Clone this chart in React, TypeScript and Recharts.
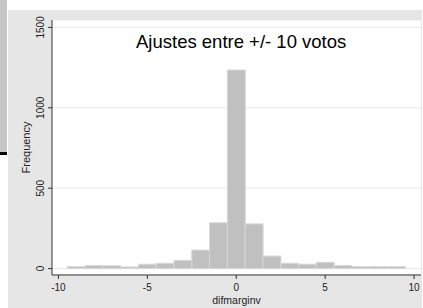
import React from "react";
import {
  BarChart,
  Bar,
  XAxis,
  YAxis,
  CartesianGrid,
  Label,
} from "recharts";

// histogram of difmarginv, one bin per integer from -9 to 9
const binCenters = [-9, -8, -7, -6, -5, -4, -3, -2, -1, 0, 1, 2, 3, 4, 5, 6, 7, 8, 9];
const frequencies = [12, 19, 18, 10, 27, 33, 51, 115, 285, 1235, 278, 78, 33, 27, 39, 19, 12, 12, 12];
const xTicks = [-10, -5, 0, 5, 10];
const yTicks = [0, 500, 1000, 1500];

const data = binCenters.map((x, i) => ({ x, freq: frequencies[i] }));

const FONT = '"Liberation Sans", Arial, Helvetica, sans-serif';

const YTick = (props: any) => {
  const { x, y, payload } = props;
  const bx = x - 2;
  return (
    <text
      x={bx}
      y={y}
      transform={`rotate(-90 ${bx} ${y})`}
      textAnchor="middle"
      fontSize={10}
      fontFamily={FONT}
      fill="#222"
    >
      {payload.value}
    </text>
  );
};

const FreqLabel = (props: any) => {
  const vb = props.viewBox || {};
  const cx = 22;
  const cy = (vb.y ?? 10) + (vb.height ?? 255) / 2;
  return (
    <text
      x={cx}
      y={cy}
      transform={`rotate(-90 ${cx} ${cy})`}
      textAnchor="middle"
      fontSize={11}
      fontFamily={FONT}
      fill="#222"
    >
      Frequency
    </text>
  );
};

export default function App() {
  return (
    <div
      style={{
        position: "relative",
        width: 423,
        height: 308,
        background: "#fff",
        overflow: "hidden",
        fontFamily: FONT,
      }}
    >
      <style>{`body{margin:0}`}</style>
      <div style={{ position: "absolute", left: 0, top: 0, width: 7, height: 152, background: "#c6c6c6" }} />
      <div style={{ position: "absolute", left: 0, top: 152, width: 7, height: 3, background: "#000" }} />
      <div
        style={{
          position: "absolute",
          left: 8,
          top: 10,
          width: 414,
          height: 298,
          background: "#e6e6e6",
        }}
      >
        <BarChart
          width={414}
          height={298}
          data={data}
          margin={{ top: 10, right: 1, left: 0, bottom: 0 }}
          barCategoryGap={0}
          barGap={0}
        >
          <CartesianGrid vertical={false} stroke="#e9e9e9" fill="#fff" />
          <XAxis
            dataKey="x"
            type="number"
            domain={[-10.36, 10.39]}
            ticks={xTicks}
            allowDataOverflow
            height={33}
            tickSize={4}
            tickMargin={5}
            stroke="#333"
            tick={{ fontSize: 10, fontFamily: FONT, fill: "#222" }}
          >
            <Label
              value="difmarginv"
              position="insideBottom"
              offset={4}
              style={{ fontSize: 10.5, fontFamily: FONT, fill: "#222" }}
            />
          </XAxis>
          <YAxis
            type="number"
            domain={[-40, 1546]}
            ticks={yTicks}
            allowDataOverflow
            width={44}
            tickSize={4}
            tickMargin={2}
            stroke="#333"
            tick={<YTick />}
            label={<FreqLabel />}
          />
          <Bar
            dataKey="freq"
            fill="#c0c0c0"
            stroke="#d8d8d8"
            strokeWidth={1}
            isAnimationActive={false}
          />
        </BarChart>
      </div>
      <div
        style={{
          position: "absolute",
          left: 136,
          top: 31,
          fontSize: 18.5,
          lineHeight: "22px",
          color: "#000",
          whiteSpace: "nowrap",
        }}
      >
        Ajustes entre +/- 10 votos
      </div>
    </div>
  );
}
